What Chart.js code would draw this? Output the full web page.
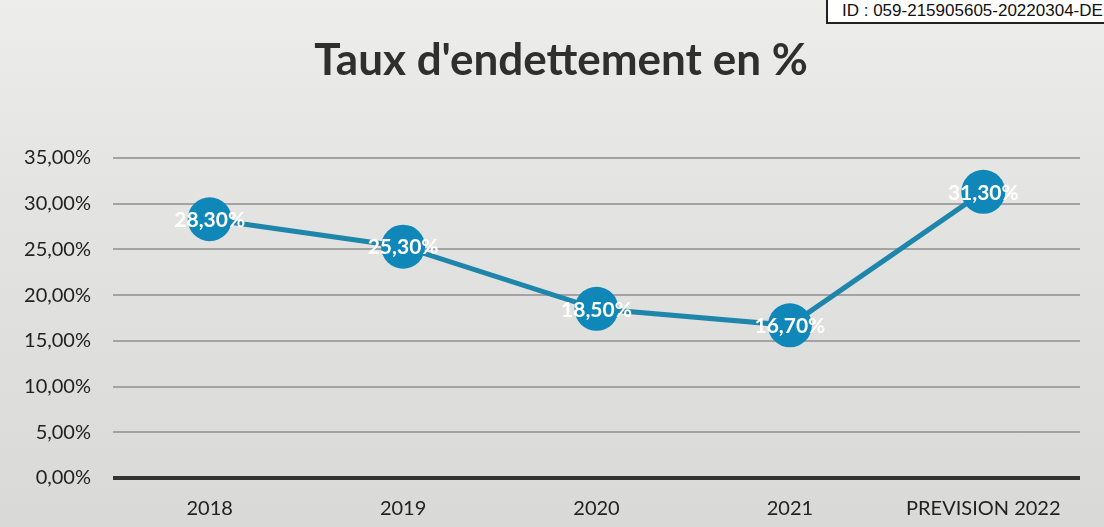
<!DOCTYPE html>
<html><head><meta charset="utf-8">
<script src="https://cdn.jsdelivr.net/npm/chart.js@4/dist/chart.umd.min.js"></script>
<style>
html,body{margin:0;padding:0;width:1104px;height:527px;overflow:hidden;}
body{background:linear-gradient(#ededeb 0%,#e4e4e2 35%,#d9d9d7 100%);position:relative;font-family:Lato,sans-serif;}
#wrap{position:absolute;left:0;top:0;width:1104px;height:527px;}
#title{position:absolute;left:261px;top:32px;width:600px;text-align:center;font:bold 44px Lato,sans-serif;line-height:53px;color:#2f2f2f;white-space:nowrap;}
#idbox{position:absolute;left:826px;top:-2px;width:300px;height:22px;background:#fff;border:2px solid #222;font:17px "Liberation Sans",Arial,sans-serif;color:#111;line-height:22px;padding-left:14px;white-space:nowrap;box-sizing:content-box;}
</style></head>
<body>
<div id="wrap"><canvas id="c" width="1104" height="527"></canvas></div>
<div id="title"></div>
<div id="idbox">ID : 059-215905605-20220304-DE</div>
<script>
const titleText = "Taux d'endettement en %";
const categories = ["2018", "2019", "2020", "2021", "PREVISION 2022"];
const debtRate = [28.3, 25.3, 18.5, 16.7, 31.3];
const yMin = 0, yMax = 35, yStep = 5;

document.getElementById('title').textContent = titleText;

const fmt = v => v.toFixed(2).replace('.', ',') + '%';

const labelPlugin = {
  id: 'pointLabels',
  afterDatasetsDraw(chart) {
    const ctx = chart.ctx;
    const meta = chart.getDatasetMeta(0);
    ctx.save();
    ctx.font = 'bold 21px Lato, sans-serif';
    ctx.fillStyle = '#ffffff';
    ctx.textAlign = 'center';
    ctx.textBaseline = 'middle';
    meta.data.forEach((pt, i) => {
      ctx.fillText(fmt(debtRate[i]), pt.x, pt.y + 1);
    });
    ctx.restore();
  }
};

new Chart(document.getElementById('c'), {
  type: 'line',
  data: {
    labels: categories,
    datasets: [{
      data: debtRate,
      borderColor: '#1e85ab',
      borderWidth: 5,
      pointRadius: 22,
      pointHoverRadius: 22,
      pointBackgroundColor: '#0f88b9',
      pointBorderColor: '#0f88b9',
      pointBorderWidth: 0,
      tension: 0,
      fill: false
    }]
  },
  options: {
    responsive: false,
    animation: false,
    events: [],
    layout: { padding: { left: 0, right: 24, top: 158, bottom: 0 } },
    plugins: {
      legend: { display: false },
      tooltip: { enabled: false },
      title: { display: false }
    },
    scales: {
      x: {
        offset: true,
        afterFit(scale) { scale.height = 49; },
        grid: { display: false },
        border: { display: false },
        ticks: {
          color: '#222',
          font: { family: 'Lato, sans-serif', size: 20 },
          padding: 11,
          maxRotation: 0
        }
      },
      y: {
        min: yMin, max: yMax,
        afterFit(scale) { scale.width = 113; },
        border: { display: false },
        grid: {
          drawTicks: false,
          color: ctx => ctx.tick && ctx.tick.value === 0 ? '#333333' : '#a3a3a3',
          lineWidth: ctx => ctx.tick && ctx.tick.value === 0 ? 4 : 2
        },
        ticks: {
          stepSize: yStep,
          color: '#222',
          padding: 22,
          font: { family: 'Lato, sans-serif', size: 20 },
          callback: v => fmt(v)
        }
      }
    }
  },
  plugins: [labelPlugin]
});
</script>
</body></html>
